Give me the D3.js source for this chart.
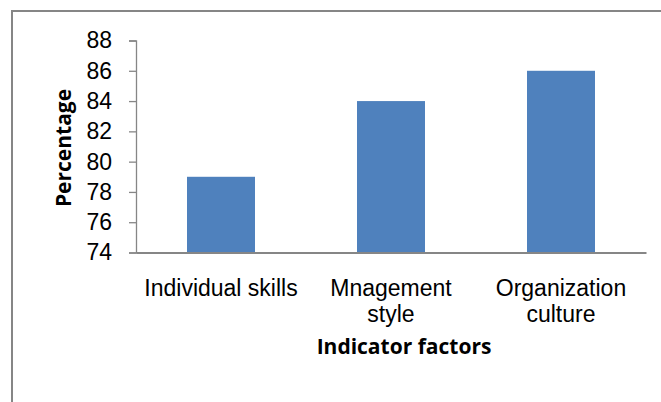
<!DOCTYPE html>
<html lang="en">
<head>
    <meta charset="UTF-8">
    <title>Indicator factors</title>
    <script src="https://d3js.org/d3.v7.min.js"></script>
    <style>
        body { margin: 0; background: white; }
        text { font-family: "Liberation Sans", Arial, sans-serif; fill: #000; }
    </style>
</head>
<body>
<script>
    // data
    const categories = ["Individual skills", "Mnagement style", "Organization culture"];
    const categoryLines = [["Individual skills"], ["Mnagement", "style"], ["Organization", "culture"]];
    const values = [79, 84, 86];
    const yTicks = [74, 76, 78, 80, 82, 84, 86, 88];

    const width = 661, height = 402;
    const plotLeft = 136, plotRight = 646, plotTop = 40.5, plotBottom = 252.5;

    const svg = d3.select('body').append('svg')
        .attr('width', width)
        .attr('height', height);

    // chart border (right and bottom fall outside the picture)
    svg.append('path')
        .attr('d', 'M12,402 V11 H661')
        .attr('fill', 'none')
        .attr('stroke', '#868686')
        .attr('stroke-width', 2);

    const y = d3.scaleLinear().domain([74, 88]).range([plotBottom, plotTop]);
    const x = d3.scaleBand().domain(categories).range([plotLeft, plotRight])
        .paddingInner(0.6).paddingOuter(0.3);

    // bars
    svg.selectAll('.bar')
        .data(values)
        .enter()
        .append('rect')
        .attr('class', 'bar')
        .attr('x', (d, i) => x(categories[i]))
        .attr('y', d => y(d))
        .attr('width', x.bandwidth())
        .attr('height', d => y(74) - y(d))
        .attr('fill', '#4f81bd');

    // y axis
    const yAxis = svg.append('g')
        .attr('transform', 'translate(' + plotLeft + ',0)')
        .call(d3.axisLeft(y).tickValues(yTicks).tickSize(7).tickPadding(17));
    yAxis.select('.domain').attr('stroke', '#868686').attr('stroke-width', 1.3);
    yAxis.selectAll('.tick line').attr('stroke', '#868686').attr('stroke-width', 1.3);
    yAxis.selectAll('text').style('font-size', '23px').style('font-family', '"Liberation Sans", Arial, sans-serif');

    // x axis
    const xAxis = svg.append('g')
        .attr('transform', 'translate(0,' + plotBottom + ')')
        .call(d3.axisBottom(x).tickSize(0).tickFormat(''));
    xAxis.select('.domain').attr('stroke', '#868686').attr('stroke-width', 2);

    // category labels, one text per line
    categoryLines.forEach((lines, i) => {
        svg.selectAll('.xlabel-' + i)
            .data(lines)
            .enter()
            .append('text')
            .attr('class', 'xlabel xlabel-' + i)
            .attr('text-anchor', 'middle')
            .style('font-size', '23px')
            .attr('x', x(categories[i]) + x.bandwidth() / 2)
            .attr('y', (d, j) => 296 + j * 26)
            .text(d => d);
    });

    // axis titles
    svg.append('text')
        .attr('x', 404)
        .attr('y', 354)
        .attr('text-anchor', 'middle')
        .style('font-family', '"Open Sans", sans-serif')
        .style('font-size', '21px')
        .style('font-weight', 'bold')
        .text('Indicator factors');

    svg.append('text')
        .attr('transform', 'translate(71,148) rotate(-90)')
        .attr('text-anchor', 'middle')
        .style('font-family', '"Open Sans", sans-serif')
        .style('font-size', '21px')
        .style('font-weight', 'bold')
        .text('Percentage');
</script>
</body>
</html>
